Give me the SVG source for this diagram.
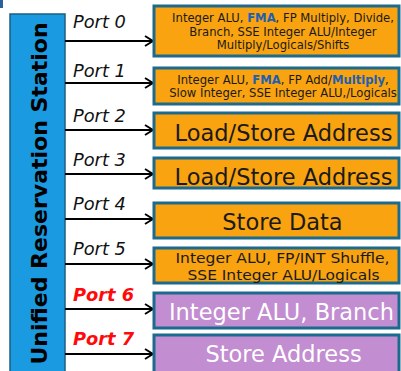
<svg xmlns="http://www.w3.org/2000/svg" width="401" height="371" viewBox="0 0 401 371">
<defs>
<style>
.bar{fill:#1a9ae0;stroke:#1d5f80;stroke-width:1.5}
.ob{fill:#f8a30f;stroke:#1c6b8e;stroke-width:3}
.pb{fill:#c28dd1;stroke:#1c6b8e;stroke-width:3}
.port{font-family:"DejaVu Sans",Verdana,sans-serif;font-size:17.8px;font-style:italic;fill:#111}
.red{fill:#ff0a0a;font-weight:bold}
.t{font-family:"DejaVu Sans",Verdana,sans-serif;text-anchor:middle;fill:#1a1a1a}
.s{font-size:11.6px}
.m{font-size:13.8px}
.l{font-size:22.5px}
.w{fill:#ffffff}
.hl{fill:#1f5fb0;font-weight:bold}
.conn line{stroke:#000;stroke-width:2}
</style>
<marker id="ah" viewBox="0 0 10 12" refX="9" refY="6" markerWidth="10" markerHeight="12" markerUnits="userSpaceOnUse" orient="auto">
<polyline points="1,1 9,6 1,11" fill="none" stroke="#000" stroke-width="2"/>
</marker>
</defs>
<rect x="0" y="0" width="3" height="8" fill="#2b5f9e"/>
<g id="station">
<rect class="bar" x="10" y="14" width="55" height="370"/>
<text transform="translate(47,193.5) rotate(-90)" font-family="DejaVu Sans,Verdana,sans-serif" font-weight="bold" font-size="22" text-anchor="middle" fill="#000">Unified Reservation Station</text>
</g>
<g id="connectors" class="conn">
<line x1="65" y1="41" x2="153" y2="41" marker-end="url(#ah)"/>
<line x1="65" y1="83" x2="153" y2="83" marker-end="url(#ah)"/>
<line x1="65" y1="130" x2="153" y2="130" marker-end="url(#ah)"/>
<line x1="65" y1="174" x2="153" y2="174" marker-end="url(#ah)"/>
<line x1="65" y1="219" x2="153" y2="219" marker-end="url(#ah)"/>
<line x1="65" y1="264" x2="153" y2="264" marker-end="url(#ah)"/>
<line x1="65" y1="309" x2="153" y2="309" marker-end="url(#ah)"/>
<line x1="65" y1="354" x2="153" y2="354" marker-end="url(#ah)"/>
</g>
<g id="ports">
<text class="port" x="73" y="28">Port 0</text>
<text class="port" x="73" y="77">Port 1</text>
<text class="port" x="73" y="122">Port 2</text>
<text class="port" x="73" y="166">Port 3</text>
<text class="port" x="73" y="210">Port 4</text>
<text class="port" x="73" y="255">Port 5</text>
<text class="port red" x="73" y="301">Port 6</text>
<text class="port red" x="73" y="345">Port 7</text>
</g>
<g id="unit0">
<rect class="ob" x="154" y="6" width="245" height="50"/>
<text class="t s" x="283" y="22">Integer ALU, <tspan class="hl">FMA</tspan>, FP Multiply, Divide,</text>
<text class="t s" x="283" y="35.5">Branch, SSE Integer ALU/Integer</text>
<text class="t s" x="283" y="49">Multiply/Logicals/Shifts</text>
</g>
<g id="unit1">
<rect class="ob" x="154" y="68" width="245" height="36"/>
<text class="t s" x="283" y="84">Integer ALU, <tspan class="hl">FMA</tspan>, FP Add/<tspan class="hl">Multiply</tspan>,</text>
<text class="t s" x="283" y="97">Slow Integer, SSE Integer ALU,/Logicals</text>
</g>
<g id="unit2">
<rect class="ob" x="154" y="113" width="245" height="35"/>
<text class="t l" x="283.5" y="140.5">Load/Store Address</text>
</g>
<g id="unit3">
<rect class="ob" x="154" y="158" width="245" height="30"/>
<text class="t l" x="283.5" y="185">Load/Store Address</text>
</g>
<g id="unit4">
<rect class="ob" x="154" y="203" width="245" height="35"/>
<text class="t l" x="282.5" y="230">Store Data</text>
</g>
<g id="unit5">
<rect class="ob" x="154" y="248" width="245" height="35"/>
<text class="t m" x="282.5" y="263" textLength="214" lengthAdjust="spacingAndGlyphs">Integer ALU, FP/INT Shuffle,</text>
<text class="t m" x="283.5" y="279.5" textLength="192" lengthAdjust="spacingAndGlyphs">SSE Integer ALU/Logicals</text>
</g>
<g id="unit6">
<rect class="pb" x="154" y="293" width="245" height="35"/>
<text class="t l w" x="281.5" y="320">Integer ALU, Branch</text>
</g>
<g id="unit7">
<rect class="pb" x="154" y="335" width="245" height="40"/>
<text class="t l w" x="283.5" y="361.5">Store Address</text>
</g>
</svg>
